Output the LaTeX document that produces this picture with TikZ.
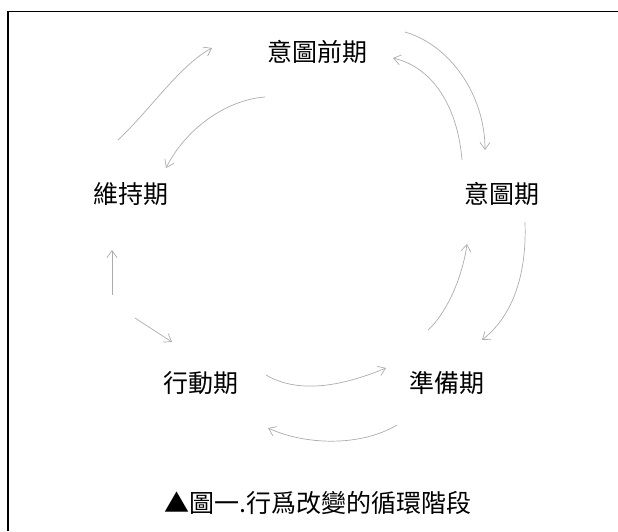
\documentclass[tikz,border=0pt]{standalone}
\usepackage{fontspec}
\newfontfamily\cjk{Noto Sans CJK TC}
\usetikzlibrary{arrows.meta}
\begin{document}
\begin{tikzpicture}[x=1pt,y=-1pt,
  lbl/.style={font=\cjk\fontsize{25}{25}\selectfont, inner sep=0pt},
  captext/.style={font=\cjk\fontsize{25}{25}\selectfont, inner sep=0pt},
  arr/.style={draw=gray!65, line width=0.7pt, -{Straight Barb[length=7pt,width=10pt]}},
  frameline/.style={line width=1.4pt}
]
\useasboundingbox (0,0) rectangle (618,531);
\draw[frameline] (8,531) -- (8,11.5) -- (618,11.5);

\node[lbl] (pre)  at (317,52)  {意圖前期};
\node[lbl] (con)  at (502,194) {意圖期};
\node[lbl] (mai)  at (131,194) {維持期};
\node[lbl] (act)  at (201,383) {行動期};
\node[lbl] (prep) at (447,383) {準備期};
\node[captext] (title) at (318,503) {▲圖一.行爲改變的循環階段};

% outer (forward) arrows
\draw[arr] ([shift={(88,-20)}]pre.center) .. controls (450,45) and (485,95) .. ([shift={(-17,-44)}]con.center);
\draw[arr] ([shift={(23,28)}]con.center) .. controls (527,280) and (510,318) .. ([shift={(35,-43)}]prep.center);
\draw[arr] ([shift={(-50,42)}]prep.center) .. controls (360,447) and (305,445) .. ([shift={(67,45)}]act.center);
\draw[arr] ([shift={(-19,101)}]mai.center) -- ([shift={(-19,56)}]mai.center);
\draw[arr] ([shift={(-13,-54)}]mai.center) .. controls (150,110) and (180,65) .. ([shift={(-105,-4)}]pre.center);

% inner (backward) arrows
\draw[arr] ([shift={(-40,-34)}]con.center) .. controls (458,110) and (435,68) .. ([shift={(76,6)}]pre.center);
\draw[arr] ([shift={(-19,-53)}]prep.center) .. controls (445,315) and (462,280) .. ([shift={(-35,50)}]con.center);
\draw[arr] ([shift={(65,-8)}]act.center) .. controls (300,395) and (345,385) .. ([shift={(-61,-15)}]prep.center);
\draw[arr] ([shift={(4,124)}]mai.center) -- ([shift={(-29,-41)}]act.center);
\draw[arr] ([shift={(-52,45)}]pre.center) .. controls (225,100) and (185,130) .. ([shift={(35,-26)}]mai.center);
\end{tikzpicture}
\end{document}
